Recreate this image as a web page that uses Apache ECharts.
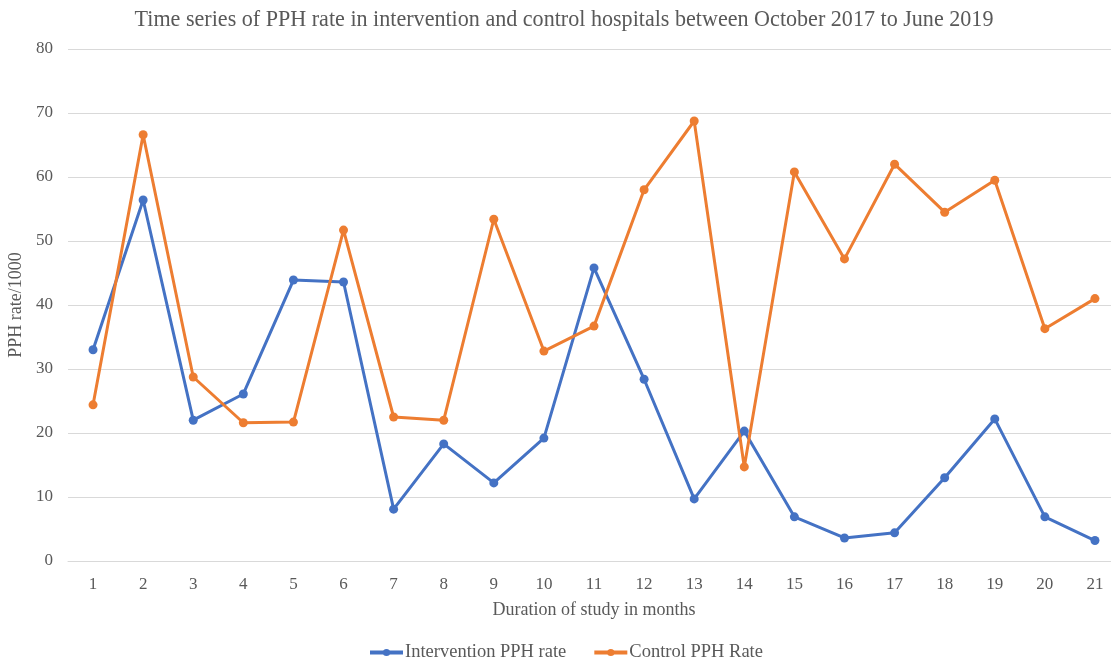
<!DOCTYPE html>
<html><head><meta charset="utf-8">
<script src="https://cdn.jsdelivr.net/npm/echarts@6/dist/echarts.min.js"></script>
<style>html,body{margin:0;padding:0;background:#fff}#c{width:1111px;height:665px}</style>
</head><body><div id="c"></div>
<script>
var months = ['1','2','3','4','5','6','7','8','9','10','11','12','13','14','15','16','17','18','19','20','21'];
var intervention = [33.0,56.4,22.0,26.1,43.9,43.6,8.1,18.3,12.2,19.2,45.8,28.4,9.7,20.3,6.9,3.6,4.4,13.0,22.2,6.9,3.2];
var control = [24.4,66.6,28.75,21.6,21.7,51.7,22.5,22.0,53.4,32.8,36.7,58.0,68.75,14.7,60.8,47.2,62.0,54.5,59.5,36.3,41.0];
var yTicks = {min:0, max:80, interval:10};

var font = 'Liberation Serif';
var txt = '#595959';
var chart = echarts.init(document.getElementById('c'), null, {renderer:'canvas'});
chart.setOption({
  animation:false,
  title:{text:'Time series of PPH rate in intervention and control hospitals between October 2017 to June 2019',
    left:559, top:4, textAlign:'center',
    textStyle:{fontFamily:font, fontSize:22.1, fontWeight:'normal', color:txt}},
  grid:{left:68, top:49, width:1052, height:512, outerBoundsMode:'none', containLabel:false},
  legend:{top:638, left:363, itemWidth:33, itemHeight:9, itemGap:26,
    lineStyle:{width:4},
    textStyle:{fontFamily:font, fontSize:18.5, color:txt, padding:[0,0,0,-3]},
    data:['Intervention PPH rate','Control PPH Rate']},
  xAxis:{type:'category', data:months, boundaryGap:true,
    name:'Duration of study in months', nameLocation:'middle', nameGap:40,
    nameTextStyle:{fontFamily:font, fontSize:18, color:txt},
    axisLine:{lineStyle:{color:'#D9D9D9', width:1}}, axisTick:{show:false},
    axisLabel:{fontFamily:font, fontSize:17, color:txt, margin:15}},
  yAxis:{type:'value', min:yTicks.min, max:yTicks.max, interval:yTicks.interval,
    name:'PPH rate/1000', nameLocation:'middle', nameGap:32,
    nameTextStyle:{fontFamily:font, fontSize:18, color:txt},
    axisLine:{show:false}, axisTick:{show:false},
    splitLine:{lineStyle:{color:'#D9D9D9', width:1}},
    axisLabel:{fontFamily:font, fontSize:17, color:txt, margin:15}},
  series:[
    {name:'Intervention PPH rate', type:'line', data:intervention, symbol:'circle', symbolSize:9,
      lineStyle:{color:'#4472C4', width:3}, itemStyle:{color:'#4472C4'}},
    {name:'Control PPH Rate', type:'line', data:control, symbol:'circle', symbolSize:9,
      lineStyle:{color:'#ED7D31', width:3}, itemStyle:{color:'#ED7D31'}}
  ]
});
</script></body></html>
